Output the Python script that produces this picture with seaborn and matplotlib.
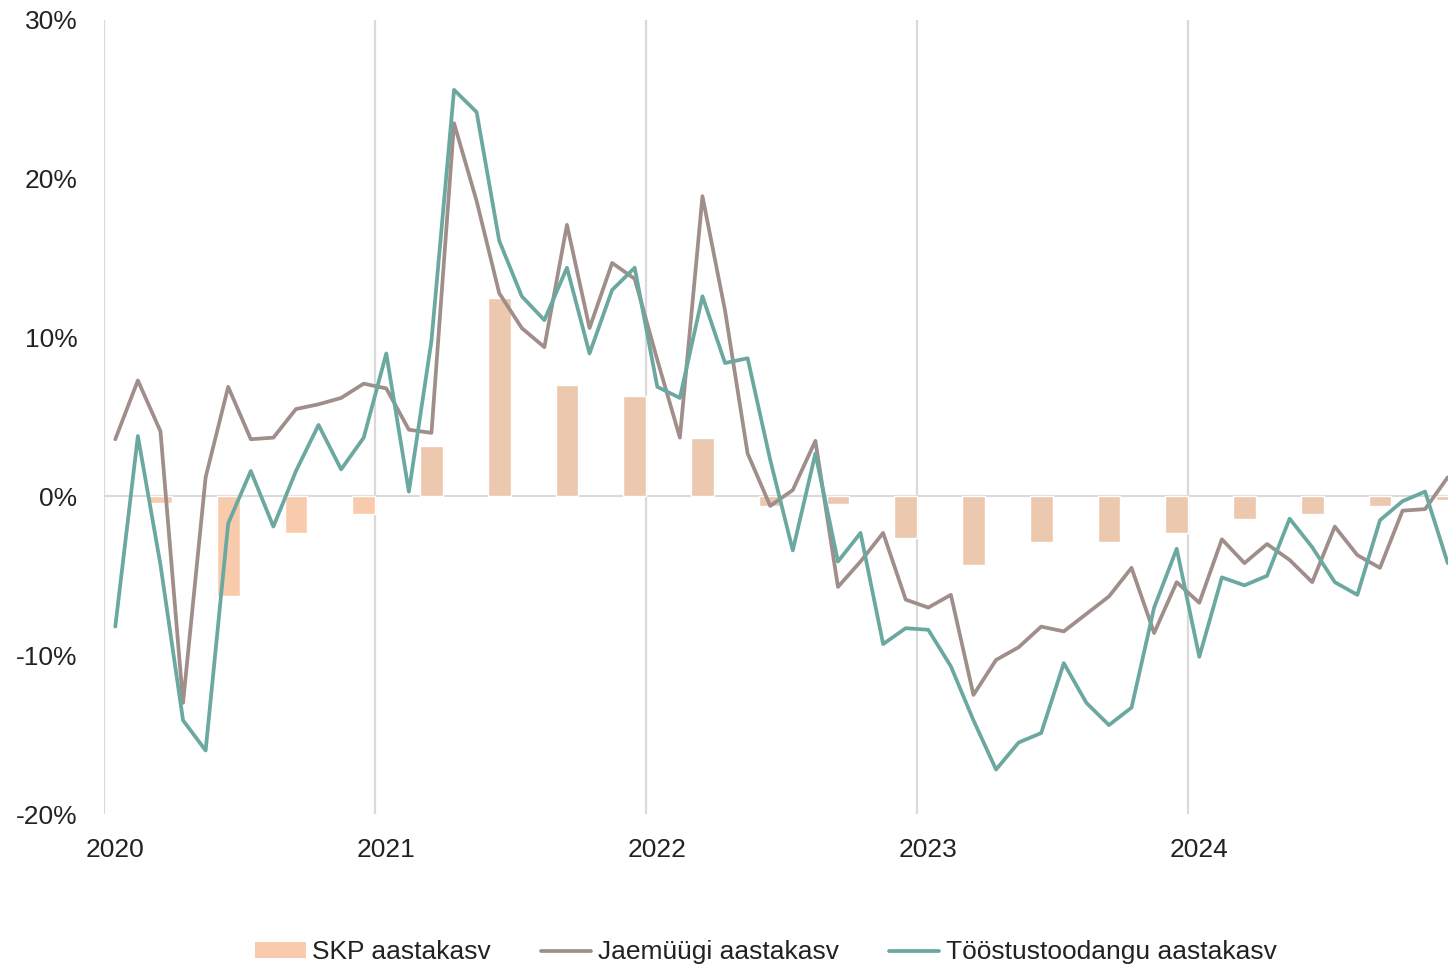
import numpy as np
import pandas as pd
import seaborn as sns
from matplotlib import pyplot as plt
from matplotlib.patches import Patch
from matplotlib.lines import Line2D

# monthly year-on-year growth, %, Jan 2020 .. Dec 2024
years = [2020, 2021, 2022, 2023, 2024]
retail = [3.6, 7.3, 4.1, -13.0, 1.2, 6.9, 3.6, 3.7, 5.5, 5.8, 6.2, 7.1,
          6.8, 4.2, 4.0, 23.5, 18.6, 12.8, 10.6, 9.4, 17.1, 10.6, 14.7, 13.7,
          8.6, 3.7, 18.9, 11.7, 2.7, -0.6, 0.4, 3.5, -5.7, -4.1, -2.3, -6.5,
          -7.0, -6.2, -12.5, -10.3, -9.5, -8.2, -8.5, -7.4, -6.3, -4.5, -8.6, -5.4,
          -6.7, -2.7, -4.2, -3.0, -4.0, -5.4, -1.9, -3.7, -4.5, -0.9, -0.8, 1.2]
industry = [-8.2, 3.8, -4.3, -14.1, -16.0, -1.7, 1.6, -1.9, 1.6, 4.5, 1.7, 3.7,
            9.0, 0.3, 9.8, 25.6, 24.2, 16.1, 12.6, 11.1, 14.4, 9.0, 13.0, 14.4,
            6.9, 6.2, 12.6, 8.4, 8.7, 2.3, -3.4, 2.7, -4.1, -2.3, -9.3, -8.3,
            -8.4, -10.7, -14.1, -17.2, -15.5, -14.9, -10.5, -13.0, -14.4, -13.3, -7.0, -3.3,
            -10.1, -5.1, -5.6, -5.0, -1.4, -3.2, -5.4, -6.2, -1.5, -0.3, 0.3, -4.2]
# quarterly GDP growth, %
gdp = [-0.4, -6.3, -2.3, -1.1,
       3.2, 12.5, 7.0, 6.3,
       3.7, -0.6, -0.5, -2.6,
       -4.3, -2.9, -2.9, -2.3,
       -1.4, -1.1, -0.6, -0.2]
y_ticks = [-20, -10, 0, 10, 20, 30]

labels = ['SKP aastakasv', 'Jaemüügi aastakasv', 'Tööstustoodangu aastakasv']
c_bar, c_bar2 = '#f9cbad', '#ebc8ae'
c_retail, c_ind = '#a08e8a', '#6aa8a0'
grid_c = '#dadada'

# positions: month centres, bars fill the last month of each quarter
month_pos = [y + (m + 0.5) / 12 for y in years for m in range(12)]
quarter_pos = [y + (3 * q + 2.5) / 12 for y in years for q in range(4)]

lines = pd.DataFrame({'x': month_pos * 2,
                      'value': retail + industry,
                      'series': [labels[1]] * 60 + [labels[2]] * 60})
bars = pd.DataFrame({'x': quarter_pos, 'value': gdp,
                     'grp': ['a' if x < 2021 else 'b' for x in quarter_pos]})

sns.set_style('white')
plt.rcParams['font.family'] = ['Liberation Sans', 'DejaVu Sans']
plt.rcParams['text.color'] = '#222222'
plt.rcParams['xtick.color'] = '#222222'
plt.rcParams['ytick.color'] = '#222222'

fig = plt.figure(figsize=(14.48, 9.65), dpi=100)
ax = fig.add_axes([104 / 1448, 1 - 814 / 965, 1 - 104 / 1448, 794 / 965])

ax.axhline(0, color=grid_c, lw=1.5, zorder=0)
sns.barplot(data=bars, x='x', y='value', hue='grp', palette={'a': c_bar, 'b': c_bar2},
            native_scale=True, dodge=False, width=1 / 3, errorbar=None, saturation=1,
            legend=False, ax=ax, zorder=2)
sns.lineplot(data=lines, x='x', y='value', hue='series',
             palette={labels[1]: c_retail, labels[2]: c_ind},
             linewidth=2.7, legend=False, ax=ax, zorder=3)
for ln in ax.lines[1:]:
    ln.set_solid_joinstyle('round')
    ln.set_solid_capstyle('round')

ax.set_xlim(2020, 2020 + 1344 / 271)
ax.set_ylim(-20, 30)
ax.set_xticks(years)
ax.set_xticklabels([''] * len(years))
ax.set_xticks([y + 1 / 24 for y in years], minor=True)
ax.set_xticklabels([str(y) for y in years], minor=True)
ax.set_yticks(y_ticks)
ax.set_yticklabels([f'{v}%' for v in y_ticks])
ax.grid(axis='x', which='major', color=grid_c, lw=1.6)
ax.grid(axis='y', visible=False)
ax.set_axisbelow(True)
ax.tick_params(axis='both', which='both', length=0, labelsize=19)
ax.tick_params(axis='y', pad=19)
ax.tick_params(axis='x', which='minor', pad=17)
ax.set_xlabel('')
ax.set_ylabel('')
for s in ax.spines.values():
    s.set_visible(False)

handles = [Patch(facecolor=c_bar, edgecolor='none'),
           Line2D([], [], color=c_retail, lw=2.7),
           Line2D([], [], color=c_ind, lw=2.7)]
fig.legend(handles, labels, loc='center', bbox_to_anchor=(0.529, 0.013), ncol=3,
           frameon=False, fontsize=19, handlelength=1.9, handleheight=0.55,
           handletextpad=0.25, columnspacing=1.9)

plt.savefig('out.png', dpi=100)
